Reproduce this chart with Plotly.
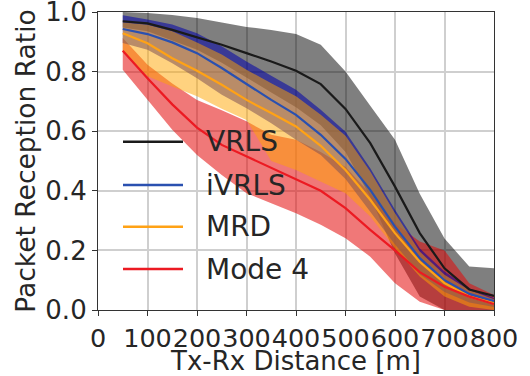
import plotly.graph_objects as go

# ---- data ----
distance_m = [50, 100, 150, 200, 250, 300, 350, 400, 450, 500, 550, 600, 650, 700, 750, 800]

vrls_mean = [0.969, 0.962, 0.940, 0.916, 0.890, 0.862, 0.834, 0.803, 0.758, 0.675, 0.560, 0.414, 0.258, 0.140, 0.069, 0.047]
vrls_upper = [1.000, 0.997, 0.990, 0.980, 0.965, 0.950, 0.940, 0.926, 0.890, 0.800, 0.685, 0.571, 0.390, 0.240, 0.146, 0.140]
vrls_lower = [0.948, 0.935, 0.905, 0.873, 0.830, 0.780, 0.730, 0.680, 0.620, 0.530, 0.380, 0.190, 0.045, 0.000, 0.000, 0.000]

ivrls_mean = [0.943, 0.926, 0.898, 0.862, 0.812, 0.759, 0.705, 0.655, 0.588, 0.507, 0.403, 0.280, 0.174, 0.100, 0.054, 0.030]
ivrls_upper = [0.989, 0.975, 0.958, 0.929, 0.885, 0.834, 0.786, 0.739, 0.672, 0.598, 0.476, 0.336, 0.207, 0.129, 0.073, 0.040]
ivrls_lower = [0.896, 0.873, 0.828, 0.778, 0.722, 0.677, 0.627, 0.571, 0.520, 0.440, 0.330, 0.220, 0.120, 0.060, 0.025, 0.010]

mrd_mean = [0.929, 0.895, 0.845, 0.803, 0.756, 0.705, 0.661, 0.616, 0.551, 0.470, 0.370, 0.258, 0.162, 0.090, 0.045, 0.022]
mrd_upper = [0.965, 0.957, 0.935, 0.898, 0.857, 0.806, 0.761, 0.717, 0.655, 0.585, 0.465, 0.325, 0.196, 0.118, 0.067, 0.036]
mrd_lower = [0.870, 0.784, 0.750, 0.717, 0.675, 0.638, 0.500, 0.470, 0.431, 0.392, 0.314, 0.207, 0.112, 0.045, 0.011, 0.000]

mode4_mean = [0.870, 0.778, 0.690, 0.612, 0.554, 0.515, 0.478, 0.437, 0.400, 0.342, 0.269, 0.200, 0.127, 0.078, 0.045, 0.020]
mode4_upper = [0.913, 0.823, 0.760, 0.705, 0.670, 0.633, 0.588, 0.571, 0.530, 0.480, 0.390, 0.290, 0.230, 0.200, 0.090, 0.050]
mode4_lower = [0.806, 0.705, 0.605, 0.520, 0.453, 0.392, 0.358, 0.325, 0.286, 0.241, 0.179, 0.090, 0.028, 0.000, 0.000, 0.000]

series_names = ["VRLS", "iVRLS", "MRD", "Mode 4"]
x_ticks = [0, 100, 200, 300, 400, 500, 600, 700, 800]
y_ticks = [0.0, 0.2, 0.4, 0.6, 0.8, 1.0]

# ---- styles ----
FONT = "DejaVu Sans"
TXT = "#262626"
line_colors = {"VRLS": "#1a1a1a", "iVRLS": "#2a50b0", "MRD": "#ffa215", "Mode 4": "#ec1a22"}
fill_colors = {"VRLS": "rgba(0,0,0,0.5)", "iVRLS": "rgba(0,0,170,0.55)",
               "MRD": "rgba(255,165,0,0.5)", "Mode 4": "rgba(228,10,10,0.55)"}

means = {"VRLS": vrls_mean, "iVRLS": ivrls_mean, "MRD": mrd_mean, "Mode 4": mode4_mean}
uppers = {"VRLS": vrls_upper, "iVRLS": ivrls_upper, "MRD": mrd_upper, "Mode 4": mode4_upper}
lowers = {"VRLS": vrls_lower, "iVRLS": ivrls_lower, "MRD": mrd_lower, "Mode 4": mode4_lower}

fig = go.Figure()

# bands
for name in ["VRLS", "Mode 4", "iVRLS", "MRD"]:
    fig.add_trace(go.Scatter(
        x=distance_m + distance_m[::-1],
        y=uppers[name] + lowers[name][::-1],
        fill="toself", fillcolor=fill_colors[name],
        line=dict(width=0), mode="lines", hoverinfo="skip", showlegend=False))

# mean lines
for name in series_names:
    fig.add_trace(go.Scatter(
        x=distance_m, y=means[name], mode="lines", name=name,
        line=dict(color=line_colors[name], width=2.2), showlegend=False))

top, bottom = 12.0, 310.0      # page pixels of plot area
left, right = 98.0, 494.0

# manual legend (matplotlib style: long handles, no frame)
leg_y = [141.7, 185.0, 226.7, 269.0]  # page pixel rows
for name, py in zip(series_names, leg_y):
    yp = (bottom - py) / (bottom - top)
    x0 = (123 - left) / (right - left)
    x1 = (183 - left) / (right - left)
    fig.add_shape(type="line", xref="paper", yref="paper", x0=x0, x1=x1, y0=yp, y1=yp,
                  line=dict(color=line_colors[name], width=2.6))
    fig.add_annotation(xref="paper", yref="paper", x=(204 - left) / (right - left), y=yp,
                       text=name, showarrow=False, xanchor="left", yanchor="middle",
                       font=dict(family=FONT, size=28, color=TXT))

axis_common = dict(showline=True, linecolor="#333333", linewidth=1.2, mirror=True,
                   showgrid=True, gridcolor="#cfcfcf", gridwidth=1.5,
                   ticks="outside", ticklen=5, tickwidth=1.2, tickcolor="#333333",
                   zeroline=False, automargin=False, ticklabeloverflow="allow")

fig.update_xaxes(range=[0, 800], tickvals=x_ticks, ticktext=[str(v) for v in x_ticks],
                 tickangle=0, tickfont=dict(family=FONT, size=25.5, color=TXT),
                 title=dict(text="Tx-Rx Distance [m]", font=dict(family=FONT, size=26, color=TXT), standoff=0),
                 **axis_common)
fig.update_yaxes(range=[0, 1.0], tickvals=y_ticks, ticktext=["%.1f" % v for v in y_ticks],
                 tickfont=dict(family=FONT, size=26, color=TXT),
                 title=dict(text="Packet Reception Ratio", font=dict(family=FONT, size=26.5, color=TXT), standoff=2),
                 **axis_common)

fig.update_layout(width=530, height=376,
                  margin=dict(l=int(left), r=530 - int(right), t=int(top), b=376 - int(bottom)),
                  plot_bgcolor="white", paper_bgcolor="white", showlegend=False,
                  font=dict(family=FONT, color=TXT))

fig.write_html("out.html", config={"displayModeBar": False},
               post_script="document.body.style.margin='0px';document.body.style.overflow='hidden';")
